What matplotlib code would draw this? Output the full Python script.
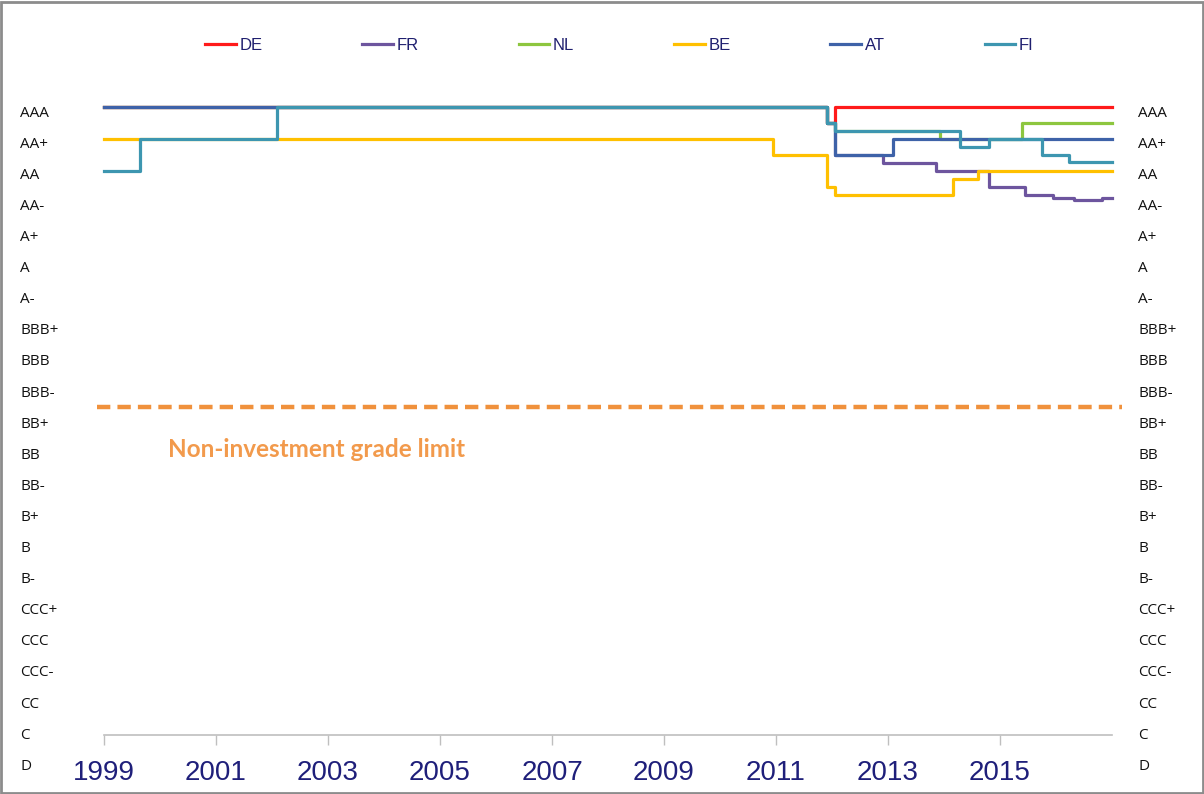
import matplotlib
matplotlib.use("Agg")
import matplotlib.pyplot as plt
import matplotlib.transforms as mtransforms
from matplotlib.patches import Rectangle

# rating scale, top to bottom (0 = AAA)
ratings = ["AAA", "AA+", "AA", "AA-", "A+", "A", "A-", "BBB+", "BBB", "BBB-",
           "BB+", "BB", "BB-", "B+", "B", "B-", "CCC+", "CCC", "CCC-", "CC", "C", "D"]
years = [1999, 2001, 2003, 2005, 2007, 2009, 2011, 2013, 2015]

# average rating per country (step changes: date, level)
de_x = [1999, 2011.91, 2012.05, 2017]
de_y = [0, 0.5, 0, 0]
fr_x = [1999, 2011.91, 2012.05, 2012.91, 2013.86, 2014.80, 2015.45, 2015.95, 2016.32, 2016.82, 2017]
fr_y = [0, 0.5, 1.5, 1.75, 2.0, 2.5, 2.75, 2.83, 2.92, 2.83, 2.83]
nl_x = [1999, 2011.91, 2012.05, 2013.93, 2015.39, 2017]
nl_y = [0, 0.5, 0.75, 1.0, 0.5, 0.5]
be_x = [1999, 2010.95, 2011.91, 2012.05, 2014.16, 2014.60, 2017]
be_y = [1.0, 1.5, 2.5, 2.75, 2.25, 2.0, 2.0]
at_x = [1999, 2011.91, 2012.05, 2013.09, 2017]
at_y = [0, 0.5, 1.5, 1.0, 1.0]
fi_x = [1999, 1999.64, 2002.09, 2011.91, 2012.05, 2014.29, 2014.80, 2015.75, 2016.23, 2017]
fi_y = [2.0, 1.0, 0, 0.5, 0.75, 1.25, 1.0, 1.5, 1.72, 1.72]

limit_level = 9.38
limit_label = "Non-investment grade limit"

series = [
    ("DE", de_x, de_y, "#FF1A1A"),
    ("FR", fr_x, fr_y, "#6D559E"),
    ("NL", nl_x, nl_y, "#8DC63F"),
    ("BE", be_x, be_y, "#FFC000"),
    ("AT", at_x, at_y, "#3E62A8"),
    ("FI", fi_x, fi_y, "#3D96B0"),
]

W, H = 1204, 794
fig = plt.figure(figsize=(W / 100, H / 100), dpi=100)
fig.patch.set_facecolor("white")

# axes: 1999 at px 104, 2017 at px 1112; AAA line at px 107, 32 px per notch
top_px, bottom_px = 91, 735
ax = fig.add_axes([104 / W, 1 - bottom_px / H, 1008 / W, (bottom_px - top_px) / H])
ax.set_xlim(1999, 2017)
ax.set_ylim((bottom_px - 107) / 32, (top_px - 107) / 32)

for name, xs, ys, col in series:
    ax.step(xs, ys, where="post", color=col, lw=2.3, label=name, clip_on=False)

# non-investment grade limit
ax.plot([1998.875, 2017.18], [limit_level, limit_level], color="#F0913C", lw=3.2,
        dashes=(3.0, 1.6), clip_on=False)
ax.text(2000.14, 10.69, limit_label, color="#F29A4C", fontsize=17.5, fontweight="bold",
        family=["Lato", "DejaVu Sans"], va="center", ha="left")

# rating labels on both sides
tr = mtransforms.blended_transform_factory(fig.transFigure, ax.transData)
for i, r in enumerate(ratings):
    ypos = 0.19 + 0.972 * i
    for xf in (20 / W, 1138 / W):
        ax.text(xf, ypos, r, transform=tr, fontsize=11, color="#111111",
                family=["Open Sans", "DejaVu Sans"], va="center", ha="left", clip_on=False)

for s in ["top", "right", "left"]:
    ax.spines[s].set_visible(False)
ax.spines["bottom"].set_color("#BFBFBF")
ax.spines["bottom"].set_linewidth(1.2)
ax.set_yticks([])
ax.set_xticks(years)
ax.set_xticklabels([str(y) for y in years])
ax.tick_params(axis="x", length=7, width=1, color="#BFBFBF", pad=11,
               labelsize=20, labelcolor="#1F1F7A")
for lbl in ax.get_xticklabels():
    lbl.set_family(["Liberation Sans", "DejaVu Sans"])

leg = fig.legend(loc="center left", bbox_to_anchor=(205 / W, 1 - 45 / H), ncol=6,
                 frameon=False, handlelength=1.85, handletextpad=0.2, columnspacing=6.0,
                 borderpad=0, borderaxespad=0,
                 prop={"family": ["Liberation Sans", "DejaVu Sans"], "size": 12})
for t in leg.get_texts():
    t.set_color("#1F1F6F")

# picture frame
fig.add_artist(Rectangle((0.001, 0.001), 0.998, 0.997, transform=fig.transFigure,
                         fill=False, edgecolor="#8C8C8C", lw=2))

fig.savefig("out.png", dpi=100)
